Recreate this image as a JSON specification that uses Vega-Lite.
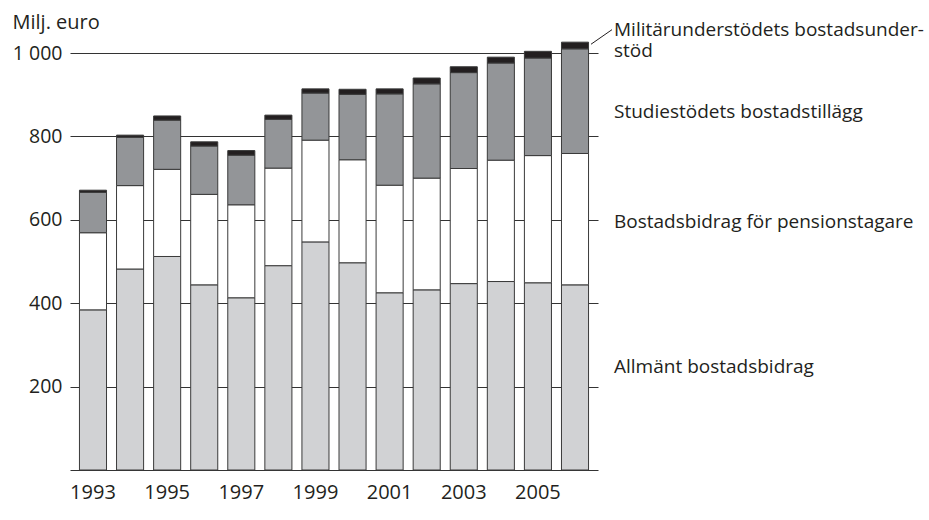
{
  "$schema": "https://vega.github.io/schema/vega-lite/v6.json",
  "width": 528,
  "height": 417,
  "autosize": {"type": "none"},
  "padding": {"left": 70, "top": 53, "right": 331, "bottom": 50},
  "config": {
    "view": {"stroke": null},
    "font": "Open Sans",
    "text": {"font": "Open Sans"}
  },
  "datasets": {
    "bars": [
      {"year": "1993", "cat": "Allmänt bostadsbidrag", "o": 1, "v": 384},
      {"year": "1993", "cat": "Bostadsbidrag för pensionstagare", "o": 2, "v": 185},
      {"year": "1993", "cat": "Studiestödets bostadstillägg", "o": 3, "v": 97},
      {"year": "1993", "cat": "Militärunderstödets bostadsunderstöd", "o": 4, "v": 5},
      {"year": "1994", "cat": "Allmänt bostadsbidrag", "o": 1, "v": 482},
      {"year": "1994", "cat": "Bostadsbidrag för pensionstagare", "o": 2, "v": 200},
      {"year": "1994", "cat": "Studiestödets bostadstillägg", "o": 3, "v": 116},
      {"year": "1994", "cat": "Militärunderstödets bostadsunderstöd", "o": 4, "v": 5},
      {"year": "1995", "cat": "Allmänt bostadsbidrag", "o": 1, "v": 512},
      {"year": "1995", "cat": "Bostadsbidrag för pensionstagare", "o": 2, "v": 209},
      {"year": "1995", "cat": "Studiestödets bostadstillägg", "o": 3, "v": 118},
      {"year": "1995", "cat": "Militärunderstödets bostadsunderstöd", "o": 4, "v": 10},
      {"year": "1996", "cat": "Allmänt bostadsbidrag", "o": 1, "v": 444},
      {"year": "1996", "cat": "Bostadsbidrag för pensionstagare", "o": 2, "v": 217},
      {"year": "1996", "cat": "Studiestödets bostadstillägg", "o": 3, "v": 116},
      {"year": "1996", "cat": "Militärunderstödets bostadsunderstöd", "o": 4, "v": 10},
      {"year": "1997", "cat": "Allmänt bostadsbidrag", "o": 1, "v": 413},
      {"year": "1997", "cat": "Bostadsbidrag för pensionstagare", "o": 2, "v": 223},
      {"year": "1997", "cat": "Studiestödets bostadstillägg", "o": 3, "v": 119},
      {"year": "1997", "cat": "Militärunderstödets bostadsunderstöd", "o": 4, "v": 11},
      {"year": "1998", "cat": "Allmänt bostadsbidrag", "o": 1, "v": 490},
      {"year": "1998", "cat": "Bostadsbidrag för pensionstagare", "o": 2, "v": 234},
      {"year": "1998", "cat": "Studiestödets bostadstillägg", "o": 3, "v": 117},
      {"year": "1998", "cat": "Militärunderstödets bostadsunderstöd", "o": 4, "v": 10},
      {"year": "1999", "cat": "Allmänt bostadsbidrag", "o": 1, "v": 547},
      {"year": "1999", "cat": "Bostadsbidrag för pensionstagare", "o": 2, "v": 244},
      {"year": "1999", "cat": "Studiestödets bostadstillägg", "o": 3, "v": 113},
      {"year": "1999", "cat": "Militärunderstödets bostadsunderstöd", "o": 4, "v": 10},
      {"year": "2000", "cat": "Allmänt bostadsbidrag", "o": 1, "v": 497},
      {"year": "2000", "cat": "Bostadsbidrag för pensionstagare", "o": 2, "v": 247},
      {"year": "2000", "cat": "Studiestödets bostadstillägg", "o": 3, "v": 157},
      {"year": "2000", "cat": "Militärunderstödets bostadsunderstöd", "o": 4, "v": 12},
      {"year": "2001", "cat": "Allmänt bostadsbidrag", "o": 1, "v": 425},
      {"year": "2001", "cat": "Bostadsbidrag för pensionstagare", "o": 2, "v": 258},
      {"year": "2001", "cat": "Studiestödets bostadstillägg", "o": 3, "v": 219},
      {"year": "2001", "cat": "Militärunderstödets bostadsunderstöd", "o": 4, "v": 12},
      {"year": "2002", "cat": "Allmänt bostadsbidrag", "o": 1, "v": 432},
      {"year": "2002", "cat": "Bostadsbidrag för pensionstagare", "o": 2, "v": 268},
      {"year": "2002", "cat": "Studiestödets bostadstillägg", "o": 3, "v": 226},
      {"year": "2002", "cat": "Militärunderstödets bostadsunderstöd", "o": 4, "v": 14},
      {"year": "2003", "cat": "Allmänt bostadsbidrag", "o": 1, "v": 447},
      {"year": "2003", "cat": "Bostadsbidrag för pensionstagare", "o": 2, "v": 276},
      {"year": "2003", "cat": "Studiestödets bostadstillägg", "o": 3, "v": 230},
      {"year": "2003", "cat": "Militärunderstödets bostadsunderstöd", "o": 4, "v": 14},
      {"year": "2004", "cat": "Allmänt bostadsbidrag", "o": 1, "v": 452},
      {"year": "2004", "cat": "Bostadsbidrag för pensionstagare", "o": 2, "v": 291},
      {"year": "2004", "cat": "Studiestödets bostadstillägg", "o": 3, "v": 233},
      {"year": "2004", "cat": "Militärunderstödets bostadsunderstöd", "o": 4, "v": 14},
      {"year": "2005", "cat": "Allmänt bostadsbidrag", "o": 1, "v": 449},
      {"year": "2005", "cat": "Bostadsbidrag för pensionstagare", "o": 2, "v": 305},
      {"year": "2005", "cat": "Studiestödets bostadstillägg", "o": 3, "v": 234},
      {"year": "2005", "cat": "Militärunderstödets bostadsunderstöd", "o": 4, "v": 16},
      {"year": "2006", "cat": "Allmänt bostadsbidrag", "o": 1, "v": 444},
      {"year": "2006", "cat": "Bostadsbidrag för pensionstagare", "o": 2, "v": 315},
      {"year": "2006", "cat": "Studiestödets bostadstillägg", "o": 3, "v": 251},
      {"year": "2006", "cat": "Militärunderstödets bostadsunderstöd", "o": 4, "v": 16}
    ],
    "labels": [
      {"year": "2006", "y": 1055, "text": ["Militärunderstödets bostadsunder-", "stöd"]},
      {"year": "2006", "y": 858, "text": "Studiestödets bostadstillägg"},
      {"year": "2006", "y": 595, "text": "Bostadsbidrag för pensionstagare"},
      {"year": "2006", "y": 248, "text": "Allmänt bostadsbidrag"}
    ],
    "leader": [
      {"year": "2006", "y1": 1021, "y2": 1056}
    ]
  },
  "layer": [
    {
      "data": {"name": "bars"},
      "mark": {"type": "bar", "stroke": "#3a3a3a", "strokeWidth": 1},
      "encoding": {
        "x": {
          "field": "year", "type": "ordinal",
          "scale": {"paddingInner": 0.27, "paddingOuter": 0.255},
          "axis": {
            "title": null,
            "values": ["1993", "1995", "1997", "1999", "2001", "2003", "2005"],
            "ticks": false,
            "domainColor": "#333333",
            "domainWidth": 1.2,
            "labelAngle": 0,
            "labelFont": "Open Sans",
            "labelFontSize": 20,
            "labelColor": "#231f20",
            "labelPadding": 12
          }
        },
        "y": {
          "field": "v", "type": "quantitative", "stack": "zero",
          "scale": {"domain": [0, 1000], "nice": false},
          "axis": {
            "values": [200, 400, 600, 800, 1000],
            "labelExpr": "datum.value == 1000 ? '1 000' : datum.label",
            "domain": false,
            "ticks": false,
            "grid": true,
            "gridColor": "#333333",
            "gridWidth": 1.2,
            "gridOpacity": 1,
            "labelFont": "Open Sans",
            "labelFontSize": 19.5,
            "labelColor": "#231f20",
            "labelPadding": 8,
            "title": "Milj. euro",
            "titleFont": "Open Sans",
            "titleFontSize": 20,
            "titleFontWeight": "normal",
            "titleColor": "#231f20",
            "titleAngle": 0,
            "titleAlign": "left",
            "titleBaseline": "middle",
            "titleX": -58,
            "titleY": -31
          }
        },
        "color": {
          "field": "cat", "type": "nominal", "legend": null,
          "scale": {
            "domain": ["Allmänt bostadsbidrag", "Bostadsbidrag för pensionstagare", "Studiestödets bostadstillägg", "Militärunderstödets bostadsunderstöd"],
            "range": ["#d1d2d4", "#ffffff", "#939598", "#231f20"]
          }
        },
        "order": {"field": "o", "type": "quantitative"}
      }
    },
    {
      "data": {"name": "labels"},
      "mark": {"type": "text", "align": "left", "baseline": "middle", "dx": 39, "fontSize": 19, "font": "Open Sans", "color": "#231f20", "lineHeight": 21},
      "encoding": {
        "x": {"field": "year", "type": "ordinal"},
        "y": {"field": "y", "type": "quantitative"},
        "text": {"field": "text"}
      }
    },
    {
      "data": {"name": "leader"},
      "mark": {"type": "rule", "color": "#231f20", "strokeWidth": 1, "xOffset": 16, "x2Offset": 37},
      "encoding": {
        "x": {"field": "year", "type": "ordinal"},
        "x2": {"field": "year"},
        "y": {"field": "y1", "type": "quantitative"},
        "y2": {"field": "y2"}
      }
    }
  ]
}
